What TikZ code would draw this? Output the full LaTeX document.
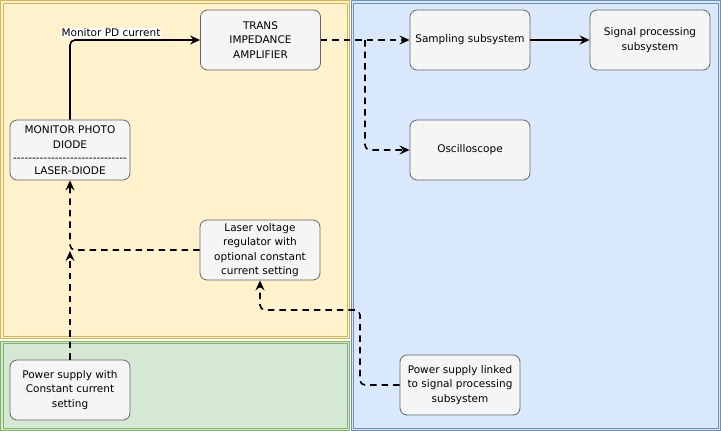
\documentclass[tikz,border=0pt]{standalone}
\usepackage{fontspec}
\setmainfont{DejaVu Sans}
\usetikzlibrary{arrows.meta}
\definecolor{ylwfill}{HTML}{FFF2CC}
\definecolor{ylwline}{HTML}{D6B656}
\definecolor{grnfill}{HTML}{D5E8D4}
\definecolor{grnline}{HTML}{82B366}
\definecolor{blufill}{HTML}{DAE8FC}
\definecolor{bluline}{HTML}{6C8EBF}
\definecolor{boxfill}{HTML}{F5F5F5}
\definecolor{boxline}{HTML}{666666}
\tikzset{
  blockbox/.style={draw=boxline, fill=boxfill, rounded corners=7pt, line width=0.8pt,
    minimum width=120pt, minimum height=60pt, inner sep=2pt, align=center,
    font=\fontsize{10.5}{14.5}\selectfont},
  conn/.style={line width=1.6pt, rounded corners=5pt, -{Stealth[length=10pt,width=9pt,inset=3.5pt]}},
  dconn/.style={conn, dash pattern=on 6.5pt off 5pt},
}
\begin{document}
\begin{tikzpicture}[x=1pt,y=-1pt]
\useasboundingbox (0,0) rectangle (721,431);
% panels
\fill[ylwfill] (0.5,0.5) rectangle (349.5,338.5);
\draw[ylwline, line width=0.8pt] (0.5,0.5) rectangle (349.5,338.5);
\draw[ylwline, line width=0.8pt] (3,3) rectangle (347,336);
\fill[grnfill] (0.5,341) rectangle (349.5,430.5);
\draw[grnline, line width=0.8pt] (0.5,341) rectangle (349.5,430.5);
\draw[grnline, line width=0.8pt] (3,343.5) rectangle (347,428);
\fill[blufill] (351,0.5) rectangle (720.5,430.5);
\draw[bluline, line width=0.8pt] (351,0.5) rectangle (720.5,430.5);
\draw[bluline, line width=0.8pt] (353.5,3) rectangle (718,428);
% nodes
\node[blockbox] (tia) at (260.5,40) {TRANS\\IMPEDANCE\\AMPLIFIER};
\node[blockbox] (pd) at (70,150) {MONITOR PHOTO\\DIODE\\[-1pt]-{}-{}-{}-{}-{}-{}-{}-{}-{}-{}-{}-{}-{}-{}-{}-{}-{}-{}-{}-{}-{}-{}-{}-{}-{}-{}-{}-{}-{}-{}\\[-2pt]LASER-DIODE};
\node[blockbox] (samp) at (470,40) {Sampling subsystem};
\node[blockbox] (sig) at (650,40) {Signal processing\\subsystem};
\node[blockbox] (osc) at (470,150) {Oscilloscope};
\node[blockbox] (reg) at (260,250) {Laser voltage\\regulator with\\optional constant\\current setting};
\node[blockbox] (psc) at (70,390) {Power supply with\\Constant current\\setting};
\node[blockbox] (psl) at (460,385) {Power supply linked\\to signal processing\\subsystem};
% connectors
\draw[conn] (pd.north) |- (tia.west);
\node[fill=white, inner sep=1pt, font=\fontsize{10.5}{12}\selectfont] (lbl) at (111,33) {Monitor PD current};
\draw[dconn] (tia.east) -- (samp.west);
\coordinate (br) at (365,40);
\draw[dconn] (br) |- (osc.west);
\draw[conn] (samp.east) -- (sig.west);
\coordinate (jn) at (70,251);
\draw[dconn] (psc.north) -- (jn);
\draw[dconn] (reg.west) -| (pd.south);
\coordinate (c1) at (360,385);
\coordinate (c2) at (360,310);
\draw[dconn] (psl.west) -- (c1) -- (c2) -| (reg.south);
\end{tikzpicture}
\end{document}
